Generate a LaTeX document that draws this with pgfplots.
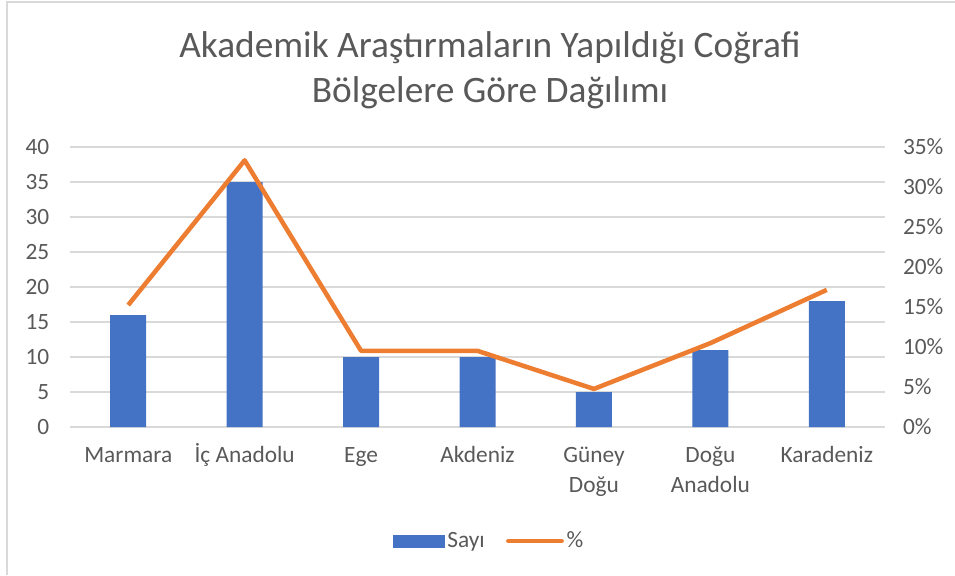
\documentclass[border=0pt]{standalone}
\usepackage{pgfplots}
\pgfplotsset{compat=1.18}
\usepackage{fontspec}
\setmainfont{Carlito}
\definecolor{barblue}{HTML}{4472C4}
\definecolor{lineorange}{HTML}{ED7D31}
\definecolor{gridgray}{HTML}{D9D9D9}
\definecolor{txtgray}{HTML}{595959}
\begin{document}
\begin{tikzpicture}
\path[use as bounding box] (0pt,0pt) rectangle (716.25pt,431.25pt);
\draw[gridgray, line width=1.2pt] (5.25pt,0pt) -- (5.25pt,429.75pt) -- (716.25pt,429.75pt);
\node[txtgray, font=\fontsize{28}{32}\selectfont] at (367.5pt,395.25pt) {Akademik Araştırmaların Yapıldığı Coğrafi};
\node[txtgray, font=\fontsize{28}{32}\selectfont] at (367.5pt,361.5pt) {Bölgelere Göre Dağılımı};
\begin{axis}[
  at={(52.5pt,111pt)}, anchor=south west,
  scale only axis, width=611.25pt, height=210pt,
  xmin=-0.5, xmax=6.5, ymin=0, ymax=40,
  ytick={0,5,...,40},
  xtick={0,...,6},
  xticklabels={{\vphantom{İ}Marmara},{İç Anadolu},{\vphantom{İ}Ege},{\vphantom{İ}Akdeniz},{\vphantom{İ}Güney\\Doğu},{\vphantom{İ}Doğu\\Anadolu},{\vphantom{İ}Karadeniz}},
  axis line style={draw=none},
  major tick length=0pt,
  ymajorgrids, grid style={gridgray, line width=0.8pt},
  /pgf/number format/assume math mode=true,
  tick label style={txtgray, font=\fontsize{17.5}{22.5}\selectfont},
  xticklabel style={align=center, yshift=-9pt, anchor=north},
  yticklabel style={anchor=east, xshift=-12pt},
  clip=false,
]
\addplot[ybar, bar width=27pt, fill=barblue, draw=none] coordinates {
(0,16) (1,35) (2,10) (3,10) (4,5) (5,11) (6,18)};
\end{axis}
\begin{axis}[
  at={(52.5pt,111pt)}, anchor=south west,
  scale only axis, width=611.25pt, height=210pt,
  xmin=-0.5, xmax=6.5, ymin=0, ymax=35,
  ytick={0,5,...,35},
  yticklabel={\pgfmathprintnumber{\tick}\%},
  xtick=\empty,
  axis x line=none,
  axis y line*=right,
  axis line style={draw=none},
  major tick length=0pt,
  /pgf/number format/assume math mode=true,
  tick label style={txtgray, font=\fontsize{17.5}{22.5}\selectfont},
  yticklabel style={anchor=west, xshift=10pt},
  clip=false,
  legend style={at={(0.515,-0.407)}, anchor=center, draw=none, fill=none,
    font=\fontsize{17.5}{20}\selectfont, text=txtgray,
    legend columns=-1, /tikz/every even column/.append style={column sep=14pt}},
]
\addlegendimage{legend image code/.code={\fill[barblue] (0pt,-4.5pt) rectangle (38pt,4.5pt);}}
\addlegendentry{Sayı}
\addplot[lineorange, line width=3.4pt, line join=round,
  legend image code/.code={\draw[lineorange, line width=3.4pt, line cap=round] (0pt,0pt) -- (40pt,0pt);}]
  coordinates {(0,15.24) (1,33.33) (2,9.52) (3,9.52) (4,4.76) (5,10.48) (6,17.14)};
\addlegendentry{\%}
\end{axis}
\end{tikzpicture}
\end{document}
